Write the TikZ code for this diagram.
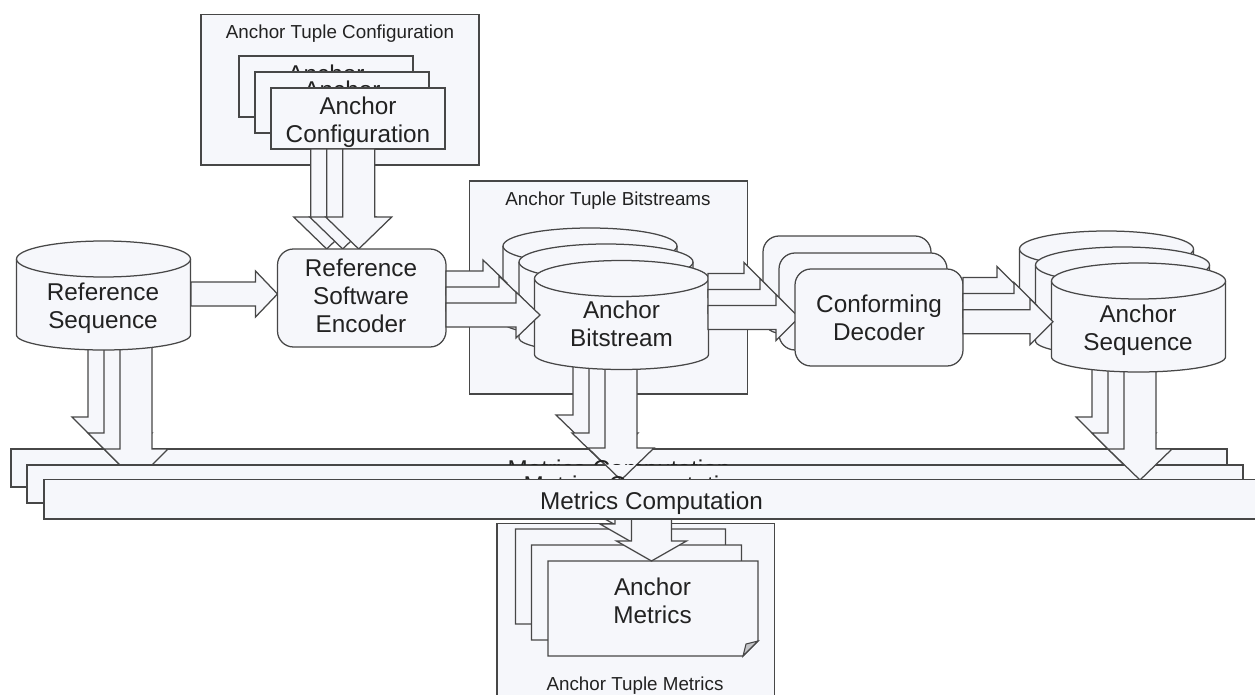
\documentclass[tikz,border=0pt]{standalone}
\usepackage{fontspec}
\setmainfont{Liberation Sans}
\usetikzlibrary{calc}
\definecolor{lineC}{HTML}{474747}
\definecolor{fillC}{HTML}{F6F7FB}
\definecolor{textC}{HTML}{222222}
\definecolor{foldC}{HTML}{C4C5C8}
\tikzset{
  blk/.style={draw=lineC,fill=fillC,line width=1.25pt,line join=miter},
  big/.style={text=textC,inner sep=0pt,align=center,font=\fontsize{24.3}{28}\selectfont,
    execute at begin node={\rule{0pt}{18pt}},execute at end node={\rule[-5pt]{0pt}{5pt}}},
  small/.style={text=textC,inner sep=0pt,align=center,font=\fontsize{18.8}{22}\selectfont,
    execute at begin node={\rule{0pt}{14pt}},execute at end node={\rule[-4pt]{0pt}{4pt}}},
}
% down block arrow: from, to, half shaft, half head, head length
\newcommand{\BlockD}[5]{\path[blk] let \p1=(#1),\p2=(#2) in
  (\x1-#3pt,\y1) -- (\x1-#3pt,\y2+#5pt) -- (\x1-#4pt,\y2+#5pt) -- (\x2,\y2)
  -- (\x1+#4pt,\y2+#5pt) -- (\x1+#3pt,\y2+#5pt) -- (\x1+#3pt,\y1) -- cycle;}
% right block arrow
\newcommand{\BlockR}[5]{\path[blk] let \p1=(#1),\p2=(#2) in
  (\x1,\y1+#3pt) -- (\x2-#5pt,\y1+#3pt) -- (\x2-#5pt,\y1+#4pt) -- (\x2,\y2)
  -- (\x2-#5pt,\y1-#4pt) -- (\x2-#5pt,\y1-#3pt) -- (\x1,\y1-#3pt) -- cycle;}
% cylinder: name, left, top
\newcommand{\Cyl}[3]{\begin{scope}[shift={(#2,#3)}]
  \coordinate (#1) at (87,54);
  \path[blk] (0,18) .. controls (0,8) and (39,0) .. (87,0) .. controls (135,0) and (174,8) .. (174,18)
    -- (174,94) .. controls (174,102) and (135,109) .. (87,109) .. controls (39,109) and (0,102) .. (0,94) -- cycle;
  \path[blk] (0,18) .. controls (0,28) and (39,36) .. (87,36) .. controls (135,36) and (174,28) .. (174,18);
\end{scope}}
% document sheet
\newcommand{\Doc}[3]{\begin{scope}[shift={(#2,#3)}]
  \coordinate (#1) at (105,47);
  \path[blk] (0,0) -- (210,0) -- (210,80) -- (195,95) -- (0,95) -- cycle;
  \path[draw=lineC,fill=foldC,line width=1.1pt] (195,95) -- (198,83) -- (210,80) -- cycle;
\end{scope}}
\begin{document}
\begin{tikzpicture}[x=1pt,y=-1pt]
\clip (0,0) rectangle (1255,695);
\fill[white] (0,0) rectangle (1255,695);

% ---------- Anchor Tuple Configuration
\path[blk] (201,14.5) rectangle (479,165);
\node[small] (tcfgT) at (340,34) {Anchor Tuple Configuration};
\path[blk] (239,56) rectangle (413,117);
\node[big] (cfgA) at (326,90.5) {Anchor\\Configuration};
\path[blk] (255,72) rectangle (429,133);
\node[big] (cfgB) at (342,106.5) {Anchor\\Configuration};
\path[blk] (271,88) rectangle (445,149);
\node[big] (cfgC) at (358,122.5) {Anchor\\Configuration};

% ---------- Arrows into the encoder
\coordinate (enc1) at (326.7,249);
\coordinate (enc2) at (342.7,249);
\coordinate (enc3) at (358.7,249);
\coordinate (cf1) at (326.7,149);
\coordinate (cf2) at (342.7,149);
\coordinate (cf3) at (358.7,149);
\BlockD{cf1}{enc1}{16}{33}{32}
\BlockD{cf2}{enc2}{16}{33}{32}
\BlockD{cf3}{enc3}{16}{33}{32}

% ---------- Metrics box 1
\path[blk] (11,449) rectangle (1227,487);

% ---------- Reference sequence
\coordinate (rs1) at (104,340);
\coordinate (rs2) at (120,340);
\coordinate (rs3) at (136,340);
\coordinate (mr1) at (104,449);
\coordinate (mr2) at (120,465);
\coordinate (mr3) at (136,481);
\BlockD{rs1}{mr1}{16}{32}{32}
\BlockD{rs2}{mr2}{16}{32}{32}
\BlockD{rs3}{mr3}{16}{32}{32}
\Cyl{refCyl}{16.5}{241}
\node[big] (refT) at (103,308) {Reference\\Sequence};
\coordinate (rsOut) at (191,294);
\coordinate (encIn) at (277.5,294);
\BlockR{rsOut}{encIn}{12}{23}{22}
\path[blk,rounded corners=16pt] (277.5,249) rectangle (446,347);
\node[big] (encT) at (361,298.5) {Reference\\Software\\Encoder};

% ---------- Metrics box 2
\path[blk] (27,465) rectangle (1243,503);

% ---------- Anchor Tuple Bitstreams
\path[blk] (469.5,181) rectangle (747.5,394);
\node[small] (tbsT) at (608,201) {Anchor Tuple Bitstreams};
\Cyl{bsA}{503}{228}
\Cyl{bsB}{519}{244}
\coordinate (bs1) at (589,360);
\coordinate (bs2) at (605,360);
\coordinate (bs3) at (621,360);
\coordinate (mb1) at (589,447);
\coordinate (mb2) at (605,465);
\coordinate (mb3) at (621,480);
\BlockD{bs1}{mb1}{16}{33}{32}
\BlockD{bs2}{mb2}{16}{33}{32}
\BlockD{bs3}{mb3}{16}{33}{32}
\Cyl{bsC}{534.5}{260.5}
\node[big] (bsT) at (621.5,326.5) {Anchor\\Bitstream};
\coordinate (eo1) at (446,283);
\coordinate (eo2) at (446,299);
\coordinate (eo3) at (446,315);
\coordinate (bi1) at (507,283);
\coordinate (bi2) at (523,299);
\coordinate (bi3) at (540,315);
\BlockR{eo1}{bi1}{12}{23}{24}
\BlockR{eo2}{bi2}{12}{23}{24}
\BlockR{eo3}{bi3}{12}{23}{24}

% ---------- Conforming Decoder
\path[blk,rounded corners=16pt] (763,236) rectangle (931,333);
\path[blk,rounded corners=16pt] (779,253) rectangle (947,350);
\coordinate (bo1) at (708,285.5);
\coordinate (bo2) at (708,301.5);
\coordinate (bo3) at (708,317.5);
\coordinate (di1) at (767,285.5);
\coordinate (di2) at (783,301.5);
\coordinate (di3) at (799,317.5);
\BlockR{bo1}{di1}{12}{23}{23}
\BlockR{bo2}{di2}{12}{23}{23}
\BlockR{bo3}{di3}{12}{23}{23}
\path[blk,rounded corners=16pt] (795,269) rectangle (963,366);
\node[big] (decT) at (879,320.5) {Conforming\\Decoder};

% ---------- Anchor Sequence
\Cyl{sqA}{1019.5}{231}
\Cyl{sqB}{1035.5}{247}
\coordinate (sq1) at (1108,360);
\coordinate (sq2) at (1124,360);
\coordinate (sq3) at (1140,360);
\coordinate (ms1) at (1108,449);
\coordinate (ms2) at (1124,465);
\coordinate (ms3) at (1140,480);
\BlockD{sq1}{ms1}{16}{32}{32}
\BlockD{sq2}{ms2}{16}{32}{32}
\BlockD{sq3}{ms3}{16}{32}{31}
\Cyl{sqC}{1051.5}{263}
\node[big] (sqT) at (1138,330) {Anchor\\Sequence};
\coordinate (do1) at (963,289.5);
\coordinate (do2) at (963,305.5);
\coordinate (do3) at (963,321.7);
\coordinate (si1) at (1020,289.5);
\coordinate (si2) at (1037,305.5);
\coordinate (si3) at (1053,321.7);
\BlockR{do1}{si1}{12}{23}{23}
\BlockR{do2}{si2}{12}{23}{23}
\BlockR{do3}{si3}{12}{23}{23}

% ---------- Labels of the stacked metrics boxes, cut by the next box
\begin{scope}
  \clip (0,440) rectangle (1255,464.5);
  \node[big] (mT1) at (619,471) {Metrics Computation};
\end{scope}
\begin{scope}
  \clip (0,460) rectangle (1255,479);
  \node[big] (mT2) at (635,487) {Metrics Computation};
\end{scope}

% ---------- Anchor Tuple Metrics
\path[blk] (497,523.5) rectangle (774.5,710);
\node[small] (tmT) at (635,685) {Anchor Tuple Metrics};
\Doc{dA}{515.5}{529}
\Doc{dB}{531.5}{545}
\Doc{dC}{548}{561}
\node[big] (mtT) at (652.5,603.5) {Anchor\\Metrics};
\coordinate (mo1) at (619,515);
\coordinate (mo2) at (635,515);
\coordinate (mo3) at (651.5,515);
\coordinate (dt1) at (619,527);
\coordinate (dt2) at (635,544);
\coordinate (dt3) at (651.5,561);
\BlockD{mo1}{dt1}{20}{35}{20}
\BlockD{mo2}{dt2}{20}{35}{20}
\BlockD{mo3}{dt3}{20}{35}{20}

% ---------- Metrics box 3
\path[blk] (44,479.5) rectangle (1262,519);
\node[big] (mT3) at (651.5,503.5) {Metrics Computation};
\end{tikzpicture}
\end{document}
